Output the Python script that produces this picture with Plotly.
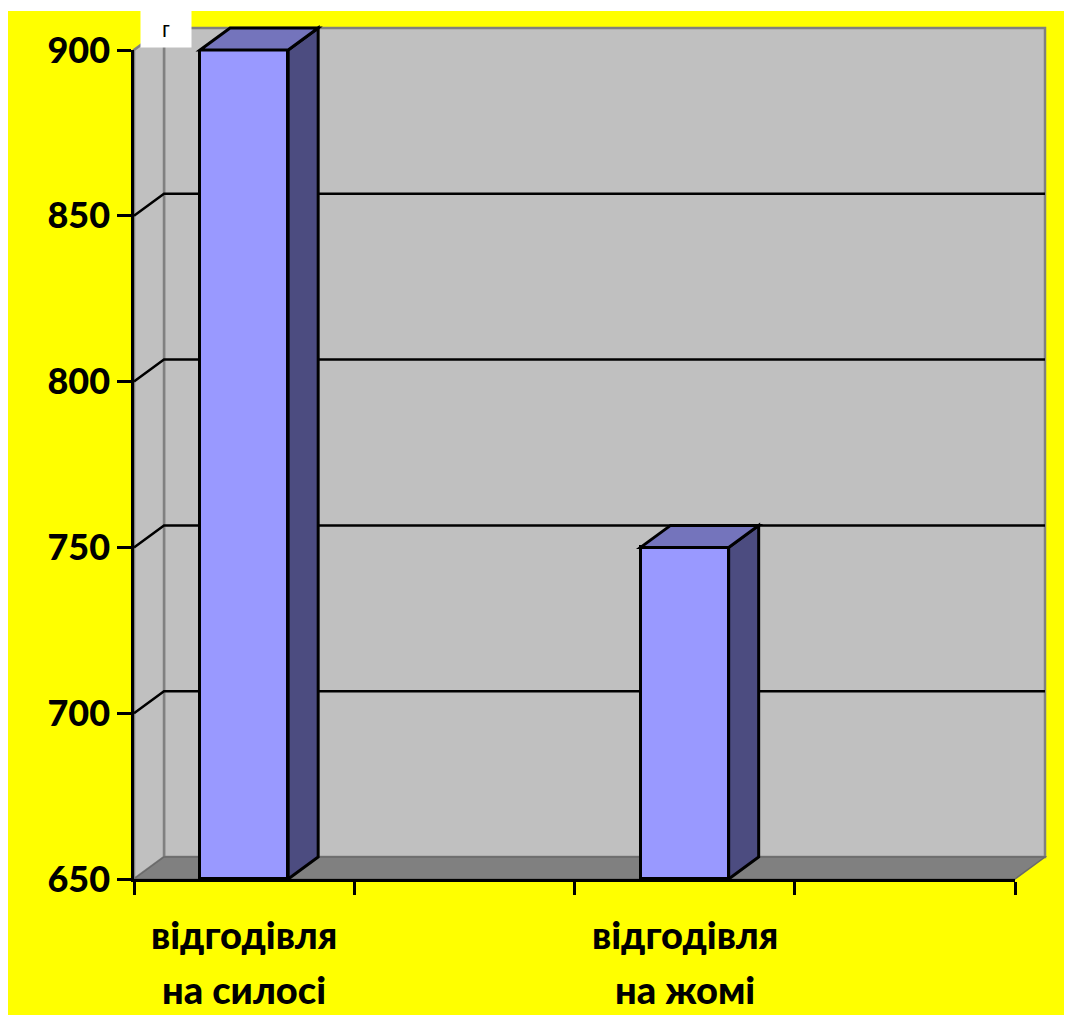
import plotly.graph_objects as go

# ---------------- data ----------------
categories = ["відгодівля\nна силосі", "", "відгодівля\nна жомі", ""]
values = [900, None, 750, None]
y_ticks = [650, 700, 750, 800, 850, 900]
unit_label = "г"

# ---------------- layout constants ----------------
W, H = 1056, 1007                  # page adds an 8 px body margin
PW, PH = 881, 829                  # plot area size in px
ML, MT = 126, 42
MR = W - ML - PW
MB = H - MT - PH
DEPTH_X, DEPTH_Y = 30, 22          # 3-D depth in pixels
BAR_W = 0.4

WALL = "#C0C0C0"
WALL_EDGE = "#808080"
FLOOR = "#808080"
FRONT = "#9999FF"
SIDE = "#4C4C80"
TOP = "#7474BC"
YELLOW = "#FFFF00"
FONT = "Lato"

x_range = [-0.5, len(categories) - 0.5]
y_range = [y_ticks[0], y_ticks[-1]]


def fx(x):
    return (x - x_range[0]) / (x_range[1] - x_range[0])


def fy(y):
    return (y - y_range[0]) / (y_range[1] - y_range[0])


dx = DEPTH_X / PW
dy = DEPTH_Y / PH


def px_x(p):
    return (p - ML) / PW


def px_y(p):
    return (MT + PH - p) / PH


def path(points):
    return "M " + " L ".join(f"{a},{b}" for a, b in points) + " Z"


shapes = []
# yellow background panel
shapes.append(dict(type="rect", xref="paper", yref="paper", layer="below",
                   x0=px_x(-5), x1=px_x(W + 5), y0=px_y(H + 5), y1=px_y(3),
                   fillcolor=YELLOW, line=dict(width=0)))
# back wall
shapes.append(dict(type="rect", xref="paper", yref="paper", layer="below",
                   x0=dx, x1=1 + dx, y0=dy, y1=1 + dy,
                   fillcolor=WALL, line=dict(color=WALL_EDGE, width=2.5)))
# left side wall
shapes.append(dict(type="path", xref="paper", yref="paper", layer="below",
                   path=path([(0, 0), (0, 1), (dx, 1 + dy), (dx, dy)]),
                   fillcolor=WALL, line=dict(color=WALL_EDGE, width=2.5)))
# floor
shapes.append(dict(type="path", xref="paper", yref="paper", layer="below",
                   path=path([(0, 0), (dx, dy), (1 + dx, dy), (1, 0)]),
                   fillcolor=FLOOR, line=dict(color="#6A6A6A", width=1.5)))
# grid lines (side wall diagonal + back wall horizontal)
for t in y_ticks[1:-1]:
    yy = fy(t)
    shapes.append(dict(type="path", xref="paper", yref="paper", layer="below",
                       path=f"M 0,{yy} L {dx},{yy + dy} L {1 + dx},{yy + dy}",
                       line=dict(color="black", width=2.5)))

# bar side and top faces
for i, v in enumerate(values):
    if v is None:
        continue
    xl = fx(i - BAR_W / 2)
    xr = fx(i + BAR_W / 2)
    yb = fy(y_range[0])
    yt = fy(v)
    shapes.append(dict(type="path", xref="paper", yref="paper",
                       path=path([(xr, yb), (xr + dx, yb + dy), (xr + dx, yt + dy), (xr, yt)]),
                       fillcolor=SIDE, line=dict(color="black", width=3)))
    shapes.append(dict(type="path", xref="paper", yref="paper",
                       path=path([(xl, yt), (xl + dx, yt + dy), (xr + dx, yt + dy), (xr, yt)]),
                       fillcolor=TOP, line=dict(color="black", width=3)))

xs = [i for i, v in enumerate(values) if v is not None]
ys = [v for v in values if v is not None]

fig = go.Figure()
fig.add_trace(go.Bar(
    x=xs, y=[v - y_range[0] for v in ys], base=y_range[0], width=BAR_W,
    marker=dict(color=FRONT, line=dict(color="black", width=3)),
    cliponaxis=False, hoverinfo="skip", showlegend=False,
))

annotations = []
for i, c in enumerate(categories):
    if not c:
        continue
    for j, line in enumerate(c.split("\n")):
        annotations.append(dict(
            x=i, xref="x", y=0, yref="paper", yanchor="middle", xanchor="center",
            yshift=-55 - 55 * j, text=line, showarrow=False,
            font=dict(family=FONT, size=38, color="black", weight=900)))

annotations.append(dict(
    x=px_x(158), y=px_y(21), xref="paper", yref="paper",
    xanchor="center", yanchor="middle", text=unit_label, showarrow=False,
    width=48, height=34, bgcolor="white", borderpad=1,
    font=dict(family="Liberation Sans", size=22, color="black")))

fig.update_layout(
    width=W, height=H,
    margin=dict(l=ML, r=MR, t=MT, b=MB, pad=0),
    paper_bgcolor="white", plot_bgcolor="rgba(0,0,0,0)",
    shapes=shapes, annotations=annotations,
    bargap=0,
    xaxis=dict(range=x_range, showgrid=False, zeroline=False,
               showline=True, linecolor="black", linewidth=3,
               tickvals=[k - 0.5 for k in range(len(categories) + 1)],
               ticktext=[""] * (len(categories) + 1),
               ticks="outside", ticklen=13, tickwidth=3, tickcolor="black"),
    yaxis=dict(range=y_range, showgrid=False, zeroline=False,
               showline=True, linecolor="black", linewidth=2.5,
               tickvals=y_ticks, ticktext=[str(t) for t in y_ticks],
               ticks="outside", ticklen=14, tickwidth=2.5, tickcolor="black",
               tickfont=dict(family=FONT, size=36, color="black", weight=900)),
)

fig.write_html("out.html")
